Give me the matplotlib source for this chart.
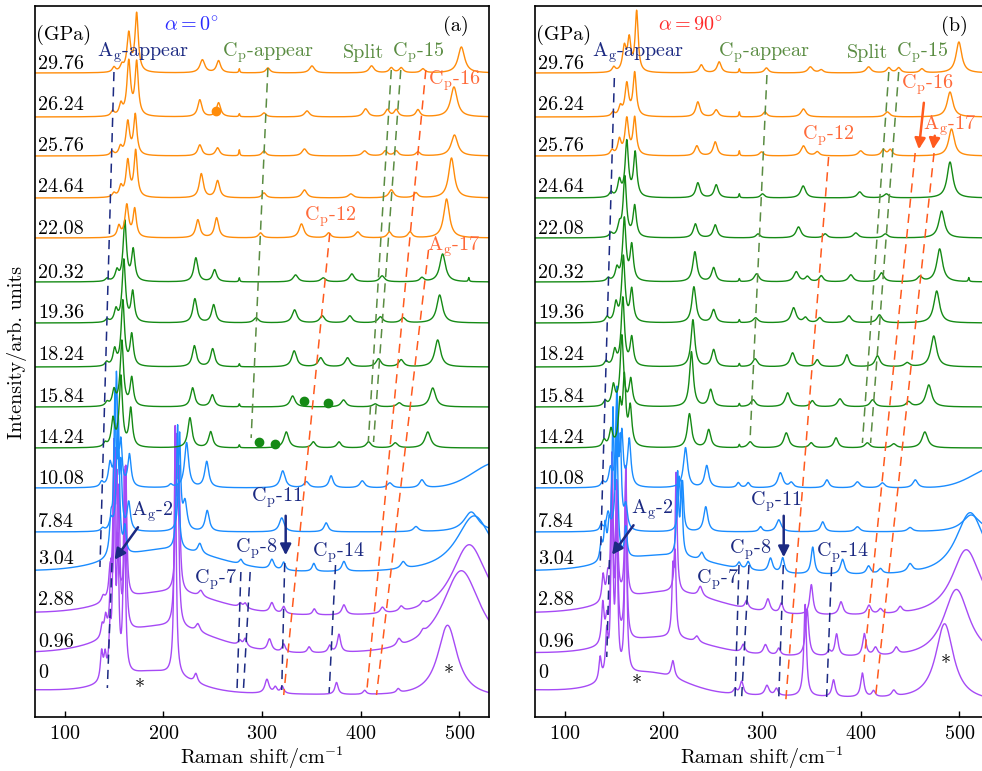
import matplotlib.pyplot as plt
import numpy as np

plt.rcParams['font.family'] = 'cmr10'
plt.rcParams['mathtext.fontset'] = 'cm'
plt.rcParams['axes.formatter.use_mathtext'] = True
plt.rcParams['font.size'] = 14.5

# pressures, bottom to top
pressures = ['0', '0.96', '2.88', '3.04', '7.84', '10.08', '14.24', '15.84',
             '18.24', '19.36', '20.32', '22.08', '24.64', '25.76', '26.24', '29.76']

# Raman peaks: (shift cm-1, height, half width)
# alpha = 0 deg
a_0 = [(137.5, 28, 1.5), (141, 22, 1.5), (146, 40, 1.3), (150, 225, 1.2), (154, 120, 1.2),
       (160.5, 200, 1.2), (212, 250, 1.2), (233, 9, 2), (305, 14, 2.5), (313.5, 6, 2),
       (320.5, 7, 2), (375.5, 12, 2), (404, 4, 2), (438, 4, 2), (488, 72, 12)]
a_096 = [(138, 12, 1.5), (141.5, 18, 1.5), (147, 60, 1.3), (151, 170, 1.2), (155, 130, 1.2),
         (161.5, 160, 1.2), (212.5, 170, 1.2), (215, 110, 1.2), (235, 8, 2.5), (277.5, 5, 2),
         (283, 8, 2), (307.6, 12, 2.5), (322, 8, 2), (347.7, 6, 2), (368.6, 7, 2), (378, 18, 2),
         (438.7, 7, 2.5), (463, 4, 2.5), (502, 86, 24)]
a_288 = [(139, 6, 2), (146, 25, 1.5), (150, 130, 1.2), (153, 110, 1.2), (162, 130, 1.2),
         (213.5, 140, 1.2), (216, 100, 1.2), (238, 6, 2.5), (278, 4, 2), (283, 5, 2), (310, 10, 2.5),
         (322, 7, 2), (353, 6, 2), (383, 10, 2.5), (422, 6, 2.5), (441, 5, 2.5), (463, 4, 2.5),
         (510, 74, 22)]
a_304 = [(147, 33, 1.8), (151, 150, 1.3), (154.5, 120, 1.3), (161, 25, 1.5), (214.5, 125, 1.3),
         (237, 10, 2.5), (278.6, 5, 2), (310, 10, 2.5), (322, 8, 2), (352.5, 8, 2), (383, 10, 2.5),
         (443, 7, 3), (515, 58, 22)]
a_784 = [(138.5, 3, 2), (147, 11, 2), (153.5, 100, 1.3), (157, 60, 1.3), (165, 28, 2),
         (216.5, 95, 1.3), (222, 28, 2.5), (244.5, 21, 2.5), (320, 14, 3), (365, 9, 2.5),
         (456, 5, 3), (512, 20, 9)]
a_1008 = [(137.5, 5, 2), (146, 22, 2), (152.5, 110, 1.3), (157, 40, 1.5), (165.7, 32, 2),
          (207.5, 3, 2), (223.6, 45, 2.5), (244, 26, 2.5), (321, 17, 3), (345, 6, 3), (370, 12, 2.5),
          (401.6, 7, 3), (429.5, 5, 3), (462, 8, 3)]
a_1424 = [(141, 4, 2), (149, 27, 2), (157, 70, 2), (167, 38, 2), (227, 30, 2.5), (248, 16, 2.5),
          (277, 3, 0.6), (324.6, 16, 3), (352, 6, 2.5), (378, 6, 2.5), (408, 6, 3), (435, 5, 3),
          (468, 16, 3.5)]
a_1584 = [(143, 4, 2), (150, 15, 2), (158, 65, 2), (168, 28, 2), (229.7, 19, 2.5), (249.7, 12, 2.5),
          (277, 3, 0.6), (331, 11, 3), (382.6, 7, 3), (414.6, 3, 3), (439, 4, 3), (473, 19, 3.5)]
a_1824 = [(142.6, 4, 2), (150.7, 16, 2), (159, 65, 2), (168, 31, 2), (231.5, 21, 2.5), (250, 18, 2.5),
          (277, 3, 0.6), (332.6, 16, 3), (359.5, 9, 3), (386.7, 9, 3), (418, 8, 3), (441, 7, 3),
          (478, 27, 3.5)]
a_1936 = [(143, 3, 2), (152, 12, 2), (160, 62, 2), (169, 30, 2), (232, 24, 2.5), (251, 18, 2.5),
          (294, 5, 3), (333, 13, 3), (361, 7, 3), (389, 7, 3), (420, 6, 3), (443, 5, 3), (480, 28, 3.5)]
a_2032 = [(143, 3, 2), (153, 10, 2), (161, 60, 2), (169.5, 31, 2), (233, 24, 2.5), (252, 12, 2.5),
          (277, 4, 0.6), (334, 7, 3), (362, 4, 3), (391, 8, 3), (421.7, 6, 3), (462, 4, 2.5),
          (483, 28, 3.5), (509.5, 4, 0.6)]
a_2208 = [(155, 11, 2), (163, 32, 2.2), (171, 28, 2), (235, 18, 2.5), (254, 20, 2.5), (298.5, 5, 2.5),
          (340, 14, 3), (367.5, 5, 2.5), (397, 6, 3), (429, 6, 2.5), (450, 6, 2.5), (487, 39, 3.5)]
a_2464 = [(150, 4, 2), (157, 10, 2), (164, 36, 2.2), (172, 46, 2), (238.5, 24, 2.5), (255, 17, 2.5),
          (302, 5, 2.5), (343, 8, 3), (390, 4, 3), (431, 8, 3), (456, 5, 2.5), (492, 40, 3.5)]
a_2576 = [(148, 4, 2), (156.6, 8, 2), (164, 33, 2.2), (171.6, 40, 2), (237, 11, 2.5), (255, 8, 2.5),
          (277, 6, 0.6), (302, 5, 2.5), (343, 7, 3), (404, 5, 3), (425, 5, 2.5), (436, 5, 2.5),
          (458, 4, 2.5), (495, 21, 4)]
a_2624 = [(148.6, 5, 2), (157, 11, 2), (165, 54, 2.2), (173, 53, 2), (237, 17, 2.5), (256, 14, 2.5),
          (277, 3, 0.6), (302, 4, 2.5), (345.6, 6, 3), (405, 8, 3), (427, 7, 2.5), (436, 7, 2.5),
          (458, 7, 2.5), (494.5, 30, 4)]
a_2976 = [(150, 5, 2), (158, 6, 2), (165, 38, 2.2), (173, 58, 2), (239.6, 13, 3), (256, 12, 2.5),
          (277, 4, 0.6), (306, 5, 2.5), (350.6, 7, 3), (411, 7, 3), (431, 5, 2.5), (441, 5, 2.5),
          (463, 4, 2.5), (502, 26, 4)]

# alpha = 90 deg
b_0 = [(136, 23, 1.5), (142.7, 43, 1.5), (148, 200, 1.2), (152.8, 160, 1.2), (162, 190, 1.2),
       (209.7, 17, 2), (272.7, 5, 2), (279.4, 13, 2), (305, 10, 2.5), (314.6, 7, 2), (343.7, 92, 1.6),
       (372.5, 17, 2), (401.7, 24, 2), (413, 6, 2), (433.5, 6, 2.5), (485, 77, 11)]
b_096 = [(138.7, 40, 1.5), (142.7, 20, 1.5), (148, 170, 1.2), (152.8, 150, 1.2), (162, 160, 1.2),
         (209.7, 60, 1.2), (212, 76, 1.2), (234, 6, 2.5), (281, 8, 2), (303.5, 10, 2.5), (317, 7, 2),
         (345.7, 47, 2), (368, 5, 2), (375.6, 22, 2), (403.7, 22, 2), (415, 8, 2.5), (436, 7, 2.5),
         (497, 70, 16)]
b_288 = [(139, 26, 1.5), (143.7, 20, 1.5), (148, 140, 1.2), (152.8, 110, 1.2), (162, 130, 1.2),
         (213, 120, 1.2), (237.5, 10, 2.5), (284.4, 8, 2), (306, 13, 2.5), (319.6, 10, 2), (350, 30, 2),
         (380, 13, 2.5), (408.4, 9, 2.5), (420, 5, 2.5), (440, 6, 2.5), (507, 68, 18)]
b_304 = [(137, 18, 1.5), (141, 33, 1.5), (145, 28, 1.5), (149, 140, 1.2), (153, 120, 1.2), (162, 30, 1.5),
         (214.5, 80, 1.2), (218.5, 70, 1.2), (239, 8, 2.5), (276.7, 6, 2), (286, 8, 2), (308.6, 14, 2.5),
         (321, 15, 2), (351.4, 27, 2), (381.6, 15, 2.5), (408, 8, 2.5), (420, 5, 2.5), (450, 8, 3),
         (511, 65, 18)]
b_784 = [(137, 6, 1.5), (144, 17, 2), (153, 130, 1.3), (156.5, 80, 1.3), (162, 23, 2), (216, 50, 1.3),
         (219.5, 45, 1.3), (243, 25, 2.5), (298.5, 5, 2), (317, 12, 3), (361.5, 10, 2.5), (396.7, 5, 3),
         (450, 4, 3), (512, 17, 11)]
b_1008 = [(138.7, 5, 2), (146.4, 17, 2), (153, 95, 1.3), (158, 50, 1.5), (165.5, 47, 2), (222.5, 40, 2.5),
          (244, 22, 2.5), (276, 5, 2), (286, 5, 2), (318.6, 15, 3), (329.7, 5, 2.5), (365.8, 8, 2.5),
          (396.7, 6, 3), (422, 5, 3), (455.3, 8, 3)]
b_1424 = [(140, 7, 2), (147, 17, 2), (156, 40, 1.8), (160.5, 66, 1.8), (166.5, 38, 2), (226.5, 34, 2.5),
          (246, 18, 2.5), (277, 3, 0.6), (288, 6, 3), (324.6, 15, 3), (349.8, 5, 2.5), (375, 10, 2.5),
          (406.7, 5, 3), (433.5, 4, 3), (465, 16, 3.5)]
b_1584 = [(141, 5, 2), (149.4, 20, 2), (158, 70, 2), (167, 26, 2), (228.5, 55, 2.3), (248, 17, 2.5),
          (277, 3, 0.6), (291, 7, 3), (326, 14, 3), (351, 6, 2.5), (379, 8, 3), (412, 7, 3),
          (448.5, 5, 3), (469, 22, 3.5)]
b_1824 = [(142, 5, 2), (150.8, 15, 2), (159, 68, 2), (168, 28, 2), (230, 47, 2.3), (251, 17, 2.5),
          (277, 3, 0.6), (293, 8, 3), (331, 14, 3), (356, 7, 2.5), (386, 12, 2.5), (417, 11, 3),
          (447, 4, 3), (474, 31, 3.5)]
b_1936 = [(143, 5, 2), (152, 18, 2), (159.5, 65, 2), (168, 32, 2), (231, 36, 2.5), (251, 13, 2.5),
          (277, 3, 0.6), (293.5, 5, 3), (332, 15, 3), (344, 5, 2.5), (358.5, 5, 2.5), (388, 7, 3),
          (419, 8, 3), (477, 32, 3.5)]
b_2032 = [(144, 3, 2), (153, 12, 2), (160.5, 62, 2), (168, 35, 2), (232, 30, 2.5), (251, 14, 2.5),
          (277, 3, 0.6), (294.5, 8, 3), (334.7, 10, 3), (346, 5, 2.5), (360, 6, 2.5), (390, 7, 3),
          (421, 9, 3), (460, 5, 3), (480, 33, 3.5), (509.5, 4, 0.6)]
b_2208 = [(147, 4, 2), (155.5, 11, 2), (161, 60, 2), (171, 31, 2), (232.5, 14, 2.5), (252.6, 13, 2.5),
          (296, 4, 2.5), (337, 11, 3), (364, 4, 2.5), (395, 5, 3), (425, 4, 3), (482, 27, 3.5)]
b_2464 = [(147, 5, 2), (155.5, 16, 2), (163, 55, 2), (171.5, 44, 2), (235, 15, 2.5), (253.6, 13, 2.5),
          (277, 4, 0.6), (300.5, 4, 2.5), (341.7, 12, 3), (399, 6, 3), (426, 4, 3), (490.5, 36, 3.5)]
b_2576 = [(148, 5, 2), (155.5, 15, 2), (163, 36, 2.2), (171, 37, 2), (234, 10, 2.5), (252.6, 14, 2.5),
          (277, 5, 0.6), (299.5, 4, 2.5), (342, 10, 3), (356, 4, 2.5), (400, 5, 3), (423, 6, 2.5),
          (430, 6, 2.5), (492, 27, 3.5)]
b_2624 = [(149, 4, 2), (156.5, 9, 2), (163, 32, 2.2), (171, 43, 2), (235, 15, 2.5), (253.6, 7, 2.5),
          (277, 5, 0.6), (303, 5, 2.5), (342, 8, 3), (427, 5, 3), (490.5, 25, 3.5)]
b_2976 = [(149.8, 5, 2), (160.5, 24, 2.2), (165.5, 31, 2), (173, 60, 1.8), (238.5, 8, 2.5),
          (256.6, 11, 2.5), (277, 4, 0.6), (304.5, 5, 2.5), (349, 6, 3), (360, 3, 2.5), (408, 6, 3),
          (428.5, 5, 2.5), (438.5, 5, 2.5), (462, 4, 2.5), (499.5, 31, 3.5)]

# broad background bumps (centre, height, sigma) and linear drift across the range
humps_a = [[(190, 20, 35)], [(200, 27, 50)], [(205, 22, 50)], [(205, 22, 50)], [], [(540, 26, 25)],
           [], [], [], [], [], [], [], [], [], []]
drift_a = [-8, -4, -6, -3, 0, 0, 0, 0, 0, 0, 0, 0, 0, 0, 0, 0]
humps_b = [[(185, 20, 35)], [(200, 17, 45)], [(205, 22, 50)], [(200, 17, 50)], [], [(540, 22, 25)],
           [], [], [], [], [], [], [], [], [], []]
drift_b = [-12, -7, -5, -7, 0, 0, 0, 0, 0, 0, 0, 0, 0, 0, 0, 0]

peaks_a = [a_0, a_096, a_288, a_304, a_784, a_1008, a_1424, a_1584, a_1824, a_1936, a_2032,
           a_2208, a_2464, a_2576, a_2624, a_2976]
peaks_b = [b_0, b_096, b_288, b_304, b_784, b_1008, b_1424, b_1584, b_1824, b_1936, b_2032,
           b_2208, b_2464, b_2576, b_2624, b_2976]

# vertical stacking
offsets = [27, 64, 104, 146, 185, 229, 269, 310, 350, 394, 435, 479, 519, 561, 600, 644]
label_y = [44, 75, 117, 158, 195, 238, 279, 320, 362, 404, 444, 488, 530, 571, 612, 653]

PURPLE = '#a64af5'
BLUE = '#1a8cff'
GREEN = '#158a15'
ORANGE = '#ff8c0a'
NAVY = '#1c2a82'
OLIVE = '#5a8c42'
RED = '#ff5a1e'
TXT_RED = '#ff6a3a'

colors_a = [PURPLE] * 3 + [BLUE] * 3 + [GREEN] * 5 + [ORANGE] * 5
colors_b = [PURPLE] * 3 + [BLUE] * 3 + [GREEN] * 7 + [ORANGE] * 3

# guide lines: ((x_top, y_top), (x_bottom, y_bottom))
navy_a = [((150, 645), (135.8, 150)), ((148, 154), (143.3, 29)), ((278.6, 145), (274.6, 24)),
          ((288, 145), (281, 24)), ((323, 154), (320, 27)), ((374.5, 152), (368, 24))]
olive_a = [((306, 649), (289, 279)), ((431, 647), (407.7, 275)), ((440.6, 647), (413, 275))]
red_a = [((368.7, 484), (322, 22)), ((466, 647), (406, 24)), ((468.7, 467), (416, 22))]
navy_b = [((150.4, 639), (136, 150)), ((145.4, 157), (142.7, 60)), ((276.7, 152), (272.7, 20)),
          ((286.8, 152), (279.4, 20)), ((321.6, 152), (317, 20)), ((370.5, 150), (365.5, 20))]
olive_b = [((305, 642), (287.8, 275)), ((428.5, 645), (401.7, 274)), ((438.5, 645), (410, 274))]
red_b = [((367.5, 560), (324, 15)), ((455.2, 564), (403.3, 55)), ((474.3, 564), (415, 20))]

x = np.linspace(70, 530, 4601)


def spectrum(peaks, humps, drift):
    y = np.zeros_like(x)
    for c, h, w in peaks:
        y += h / (1 + ((x - c) / w) ** 2)
    for c, h, s in humps:
        y += h * np.exp(-0.5 * ((x - c) / s) ** 2)
    y += drift * (x - 70) / 460
    return y


fig = plt.figure(figsize=(9.82, 7.71), dpi=100)
ax_a = fig.add_axes([35 / 982, 54 / 771, 454 / 982, 711 / 771])
ax_b = fig.add_axes([535 / 982, 54 / 771, 454 / 982, 711 / 771])

for ax, peaks, humps, drift, cols in [(ax_a, peaks_a, humps_a, drift_a, colors_a),
                                      (ax_b, peaks_b, humps_b, drift_b, colors_b)]:
    for i in range(len(pressures)):
        ax.plot(x, offsets[i] + spectrum(peaks[i], humps[i], drift[i]), color=cols[i], lw=1.0)
        ax.text(73, label_y[i], pressures[i], ha='left', va='center', fontsize=14.5)
    ax.set_xlim(70, 530)
    ax.set_ylim(0, 711)
    ax.set_yticks([])
    ax.set_xticks([100, 200, 300, 400, 500])
    ax.tick_params(axis='x', direction='in', length=4, width=1, pad=6, labelsize=14.5)
    for s in ax.spines.values():
        s.set_linewidth(1.2)
    ax.set_xlabel(r'Raman shift/cm$^{-1}$', fontsize=14.5, labelpad=1)
    ax.text(71, 682, '(GPa)', ha='left', va='center')

for ax, navy, olive, red in [(ax_a, navy_a, olive_a, red_a), (ax_b, navy_b, olive_b, red_b)]:
    for lines, c in [(navy, NAVY), (olive, OLIVE), (red, RED)]:
        for (x1, y1), (x2, y2) in lines:
            ax.plot([x1, x2], [y1, y2], color=c, lw=1.1, dashes=(6, 4))

fig.text(17 / 982, 1 - 352 / 771, 'Intensity/arb. units', rotation=90, ha='center', va='center',
         fontsize=14.5)

arrow_navy = dict(arrowstyle='-|>', color=NAVY, lw=1.8, mutation_scale=16)
arrow_red = dict(arrowstyle='-|>', color=RED, lw=1.8, mutation_scale=16)

# panel (a)
ax_a.text(228, 692, r'$\alpha = 0^{\circ}$', color='#2a2aff', ha='center', va='center')
ax_a.text(496.5, 691, '(a)', ha='center', va='center')
ax_a.text(179, 664, r'A$_{\rm g}$-appear', color=NAVY, ha='center', va='center')
ax_a.text(306.5, 664, r'C$_{\rm p}$-appear', color=OLIVE, ha='center', va='center')
ax_a.text(403, 664, 'Split', color=OLIVE, ha='center', va='center')
ax_a.text(458, 664, r'C$_{\rm p}$-15', color=OLIVE, ha='center', va='center')
ax_a.text(495, 636, r'C$_{\rm p}$-16', color=TXT_RED, ha='center', va='center')
ax_a.text(369, 500, r'C$_{\rm p}$-12', color=TXT_RED, ha='center', va='center')
ax_a.text(494, 470, r'A$_{\rm g}$-17', color=TXT_RED, ha='center', va='center')
ax_a.text(189, 205, r'A$_{\rm g}$-2', color=NAVY, ha='center', va='center')
ax_a.text(315, 219, r'C$_{\rm p}$-11', color=NAVY, ha='center', va='center')
ax_a.text(294, 168, r'C$_{\rm p}$-8', color=NAVY, ha='center', va='center')
ax_a.text(253, 137, r'C$_{\rm p}$-7', color=NAVY, ha='center', va='center')
ax_a.text(377.5, 164, r'C$_{\rm p}$-14', color=NAVY, ha='center', va='center')
ax_a.text(176, 28, '*', ha='center', va='center')
ax_a.text(489, 42, '*', ha='center', va='center')
ax_a.annotate('', xy=(149, 155), xytext=(176, 192), arrowprops=arrow_navy)
ax_a.annotate('', xy=(324, 159), xytext=(324, 204), arrowprops=arrow_navy)
ax_a.plot([253], [606], 'o', color=ORANGE, ms=6)
ax_a.plot([342.4, 366.5, 296.8, 313.5], [316, 314, 275, 273], 'o', color=GREEN, ms=6)

# panel (b)
ax_b.text(227.5, 692, r'$\alpha = 90^{\circ}$', color='#ff2a2a', ha='center', va='center')
ax_b.text(495, 691, '(b)', ha='center', va='center')
ax_b.text(174.5, 664, r'A$_{\rm g}$-appear', color=NAVY, ha='center', va='center')
ax_b.text(302, 664, r'C$_{\rm p}$-appear', color=OLIVE, ha='center', va='center')
ax_b.text(406.7, 664, 'Split', color=OLIVE, ha='center', va='center')
ax_b.text(462, 664, r'C$_{\rm p}$-15', color=OLIVE, ha='center', va='center')
ax_b.text(467, 632, r'C$_{\rm p}$-16', color=TXT_RED, ha='center', va='center')
ax_b.text(367.5, 581, r'C$_{\rm p}$-12', color=TXT_RED, ha='center', va='center')
ax_b.text(490, 591, r'A$_{\rm g}$-17', color=TXT_RED, ha='center', va='center')
ax_b.text(188.3, 207, r'A$_{\rm g}$-2', color=NAVY, ha='center', va='center')
ax_b.text(314.5, 215, r'C$_{\rm p}$-11', color=NAVY, ha='center', va='center')
ax_b.text(288.4, 167, r'C$_{\rm p}$-8', color=NAVY, ha='center', va='center')
ax_b.text(255.2, 137, r'C$_{\rm p}$-7', color=NAVY, ha='center', va='center')
ax_b.text(381.6, 164, r'C$_{\rm p}$-14', color=NAVY, ha='center', va='center')
ax_b.text(172.8, 32, '*', ha='center', va='center')
ax_b.text(486.4, 52, '*', ha='center', va='center')
ax_b.annotate('', xy=(146.4, 160), xytext=(171.5, 194), arrowprops=arrow_navy)
ax_b.annotate('', xy=(322, 157), xytext=(322, 204), arrowprops=arrow_navy)
ax_b.annotate('', xy=(458.6, 565), xytext=(464.3, 617), arrowprops=arrow_red)
ax_b.annotate('', xy=(473, 565), xytext=(475.4, 584), arrowprops=arrow_red)

fig.savefig('out.png', dpi=100)
